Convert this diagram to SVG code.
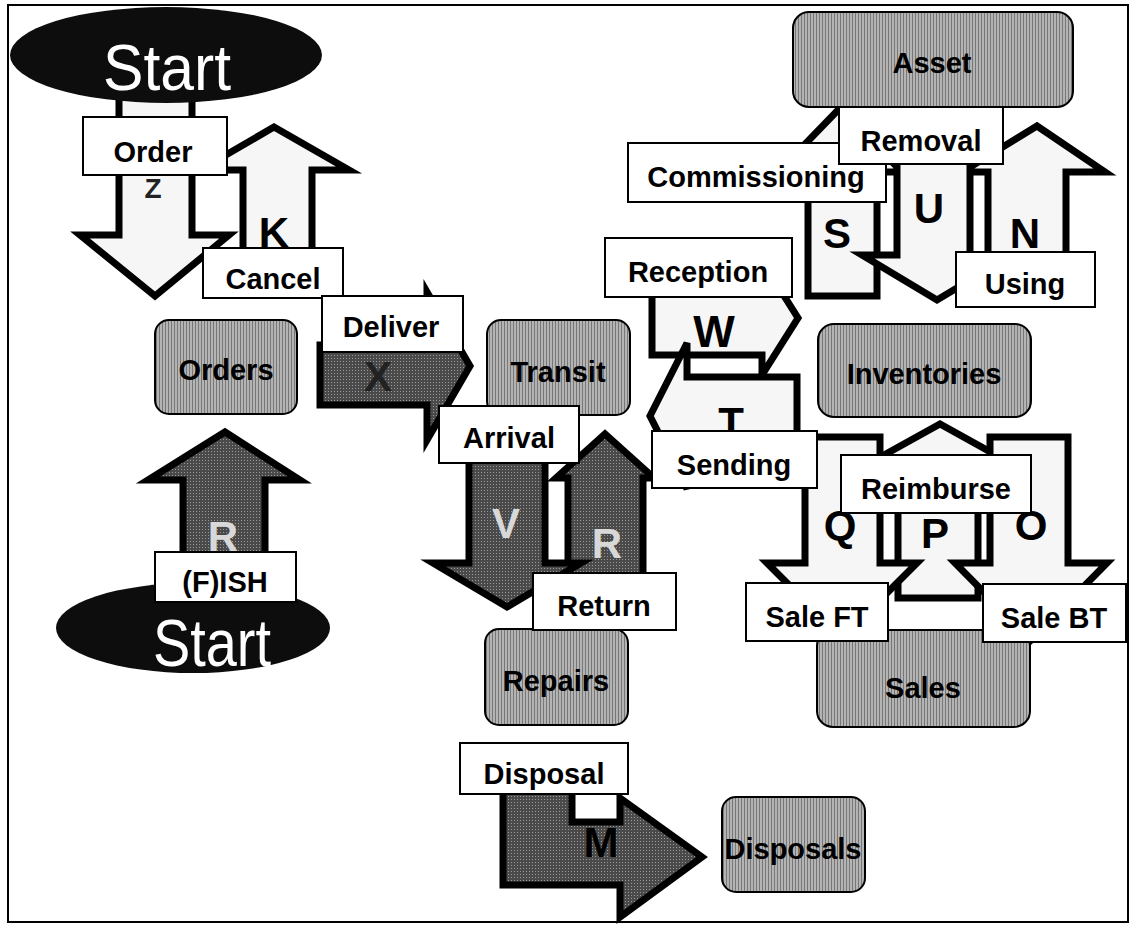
<svg xmlns="http://www.w3.org/2000/svg" width="1131" height="927" viewBox="0 0 1131 927">
<defs>
<pattern id="hatch" width="3" height="3" patternUnits="userSpaceOnUse">
<rect width="3" height="3" fill="#b4b4b4"/>
<rect width="1" height="3" fill="#777"/>
</pattern>
<pattern id="dark" width="3" height="3" patternUnits="userSpaceOnUse">
<rect width="3" height="3" fill="#4a4a4a"/>
<rect x="1" y="1" width="1" height="1" fill="#9a9a9a"/>
</pattern>
</defs>
<style>
.frame{fill:#fff;stroke:#000;stroke-width:2}
.wa{fill:#f6f6f6;stroke:#000;stroke-width:7;stroke-linejoin:miter}
.da{fill:url(#dark);stroke:#000;stroke-width:7;stroke-linejoin:miter}
.node{fill:url(#hatch);stroke:#000;stroke-width:2}
.lbl{fill:#fff;stroke:#000;stroke-width:2}
.t{font-family:"Liberation Sans",Arial,Helvetica,sans-serif;font-weight:bold;font-size:29px;text-anchor:middle;fill:#000}
.letter{font-family:"Liberation Sans",Arial,Helvetica,sans-serif;font-weight:bold;font-size:42px;text-anchor:middle;fill:#000}
.lt{fill:#d8d8d8}
.dk{fill:#222}
.start{font-family:"Liberation Sans",Arial,Helvetica,sans-serif;text-anchor:middle;fill:#fff}
</style>
<rect class="frame" x="8" y="5" width="1120" height="917"/>

<g id="connectors">
<!-- Z Order -->
<polygon class="wa" points="119,95 192,95 192,235 229,235 155,296 80,235 119,235"/>
<text class="letter dk" x="153" y="198" style="font-size:28px">Z</text>
<!-- K Cancel -->
<polygon class="wa" points="243,262 243,170 200,170 274,127 349,170 312,170 312,262"/>
<text class="letter" x="274" y="247">K</text>
<!-- X Deliver -->
<polygon class="da" points="320,345 427,345 427,292 470,366 427,440 427,405 320,405"/>
<text class="letter dk" x="378" y="391">X</text>
<!-- R mid Return -->
<polygon class="da" points="568,590 568,478 556,478 605,434 654,478 643,478 643,590"/>
<text class="letter lt" x="607" y="558">R</text>
<!-- V Arrival -->
<polygon class="da" points="469,440 545,440 545,563 581,563 507,607 433,563 469,563"/>
<text class="letter lt" x="506" y="538">V</text>
<!-- R left FISH -->
<polygon class="da" points="183,600 183,480 148,480 225,432 300,480 265,480 265,600"/>
<text class="letter lt" x="223" y="551">R</text>
<!-- M Disposal -->
<polygon class="da" points="503,760 572,760 572,822 620,822 620,798 702,857 620,917 620,885 503,885"/>
<text class="letter" x="601" y="857">M</text>
<!-- W Reception -->
<polygon class="wa" points="652,275 762,275 762,261 798,318 762,375 762,355 652,355"/>
<text class="letter" x="714" y="347" style="font-size:44px">W</text>
<!-- T Sending -->
<polygon class="wa" points="687,343 687,377 797,377 797,460 687,460 687,489 650,416"/>
<text class="letter" x="731" y="437">T</text>
<!-- P Reimburse -->
<polygon class="wa" points="898,598 898,485 830,485 940,424 1050,485 978,485 978,598"/>
<text class="letter" x="935" y="548">P</text>
<!-- Q Sale FT -->
<polygon class="wa" points="805,437 880,437 880,563 917,563 842,638 767,563 805,563"/>
<text class="letter" x="840" y="540">Q</text>
<!-- O Sale BT -->
<polygon class="wa" points="990,437 1068,437 1068,563 1107,563 1031,640 955,563 990,563"/>
<text class="letter" x="1031" y="540">O</text>
<!-- S Commissioning -->
<polygon class="wa" points="808,296 808,172 778,172 840,108 902,172 877,172 877,296"/>
<text class="letter" x="837" y="248">S</text>
<!-- N Using -->
<polygon class="wa" points="988,258 988,172 962,172 1037,126 1105,172 1066,172 1066,258"/>
<text class="letter" x="1025" y="248">N</text>
<!-- U Removal -->
<polygon class="wa" points="897,100 970,100 970,255 1012,255 937,300 862,255 897,255"/>
<text class="letter" x="929" y="223">U</text>
</g>

<g id="start-top">
<ellipse cx="166" cy="55" rx="156" ry="48" fill="#0d0d0d"/>
<text class="start" x="167" y="90" font-size="64" textLength="128" lengthAdjust="spacingAndGlyphs">Start</text>
</g>
<g id="start-bottom">
<ellipse cx="193" cy="628" rx="137" ry="45" fill="#0d0d0d"/>
<text class="start" x="212" y="666" font-size="66" textLength="118" lengthAdjust="spacingAndGlyphs">Start</text>
</g>
<g id="orders"><rect class="node" x="155" y="320" width="142" height="94" rx="14"/><text class="t" x="226" y="380">Orders</text></g>
<g id="transit"><rect class="node" x="487" y="320" width="143" height="95" rx="14"/><text class="t" x="558" y="382">Transit</text></g>
<g id="repairs"><rect class="node" x="485" y="629" width="143" height="96" rx="14"/><text class="t" x="556" y="691">Repairs</text></g>
<g id="disposals"><rect class="node" x="722" y="797" width="143" height="95" rx="14"/><text class="t" x="793" y="859">Disposals</text></g>
<g id="asset"><rect class="node" x="793" y="12" width="280" height="95" rx="16"/><text class="t" x="932" y="73">Asset</text></g>
<g id="inventories"><rect class="node" x="818" y="324" width="213" height="93" rx="16"/><text class="t" x="924" y="384">Inventories</text></g>
<g id="sales"><rect class="node" x="817" y="630" width="213" height="97" rx="16"/><text class="t" x="923" y="698">Sales</text></g>

<g id="connector-labels">
<rect class="lbl" x="83" y="117" width="144" height="58"/><text class="t" x="153" y="162">Order</text>
<rect class="lbl" x="203" y="248" width="140" height="50"/><text class="t" x="273" y="289">Cancel</text>
<rect class="lbl" x="322" y="296" width="141" height="56"/><text class="t" x="391" y="337">Deliver</text>
<rect class="lbl" x="439" y="406" width="140" height="57"/><text class="t" x="509" y="448">Arrival</text>
<rect class="lbl" x="533" y="573" width="143" height="57"/><text class="t" x="604" y="616">Return</text>
<rect class="lbl" x="460" y="743" width="168" height="51"/><text class="t" x="544" y="784">Disposal</text>
<rect class="lbl" x="155" y="552" width="141" height="50"/><text class="t" x="225" y="592">(F)ISH</text>
<rect class="lbl" x="605" y="238" width="187" height="59"/><text class="t" x="698" y="282">Reception</text>
<rect class="lbl" x="628" y="143" width="258" height="59"/><text class="t" x="756" y="187">Commissioning</text>
<rect class="lbl" x="839" y="107" width="164" height="57"/><text class="t" x="921" y="151">Removal</text>
<rect class="lbl" x="956" y="252" width="139" height="55"/><text class="t" x="1025" y="294">Using</text>
<rect class="lbl" x="652" y="431" width="165" height="57"/><text class="t" x="734" y="475">Sending</text>
<rect class="lbl" x="841" y="455" width="190" height="58"/><text class="t" x="936" y="499">Reimburse</text>
<rect class="lbl" x="746" y="583" width="142" height="58"/><text class="t" x="817" y="627">Sale FT</text>
<rect class="lbl" x="983" y="584" width="143" height="58"/><text class="t" x="1054" y="628">Sale BT</text>
</g>
</svg>
